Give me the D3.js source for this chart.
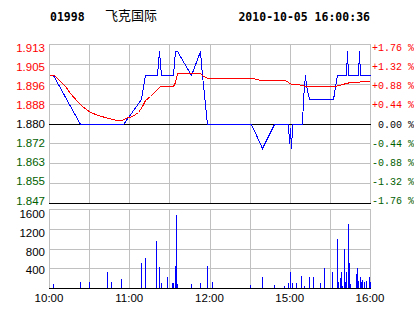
<!DOCTYPE html>
<html>
<head>
<meta charset="utf-8">
<script src="https://cdn.jsdelivr.net/npm/d3@7/dist/d3.min.js"></script>
<style>
  body { margin: 0; background: #fff; }
  svg { display: block; }
</style>
</head>
<body>
<svg id="chart" width="414" height="314"></svg>
<script>
// header
const stockCode = "01998"
const stockName = "飞克国际"
const stamp = "2010-10-05 16:00:36"
const prevClose = 1.880

// axes
const pctTicks = [1.76, 1.32, 0.88, 0.44, 0, -0.44, -0.88, -1.32, -1.76]
const priceLabels = ["1.913", "1.905", "1.896", "1.888", "1.880", "1.872", "1.863", "1.855", "1.847"]
const pctLabels = ["+1.76 %", "+1.32 %", "+0.88 %", "+0.44 %", "0.00 %", "-0.44 %", "-0.88 %", "-1.32 %", "-1.76 %"]
const volTicks = [0, 400, 800, 1200, 1600]
const gridMins = [0, 30, 60, 90, 120, 150, 180, 210, 240]   // trading minutes since 10:00
const timeTicks = [0, 60, 120, 180, 240]
const timeLabels = ["10:00", "11:00", "12:00", "15:00", "16:00"]

// last price (blue)
const priceMin = [3, 23, 55, 68.5, 72, 80.5, 82, 84, 93, 94.5, 96, 106, 113, 114.5, 118.5, 151, 159.5, 168, 179, 179.5,
  180, 180.7, 181.5, 182, 189, 190, 191.3, 192.5, 194.5, 212, 215, 221.8, 222.6, 223.3, 230.8, 232, 232.6, 240]
const priceVal = [1.90, 1.88, 1.88, 1.89, 1.90, 1.90, 1.91, 1.90, 1.90, 1.91, 1.91, 1.90, 1.91, 1.90, 1.88, 1.88, 1.87, 1.88, 1.88, 1.872,
  1.878, 1.87, 1.878, 1.88, 1.88, 1.89, 1.90, 1.896, 1.89, 1.89, 1.90, 1.90, 1.91, 1.90, 1.90, 1.91, 1.90, 1.90]

// average price (red)
const avgMin = [0, 3.7, 8.2, 12, 15.7, 20.7, 24.4, 30.7, 36.9, 44.3, 50.6, 54.8, 56.8, 61.8, 66.8, 69.3, 71.8, 75.5, 79.3, 83,
  92.5, 94.2, 95.9, 112.9, 115.4, 119.1, 135.3, 136.6, 152.7, 157.8, 176.4, 180.9, 186.4, 191.4, 203.9, 213.8, 218.8, 225, 240]
const avgVal = [1.900, 1.900, 1.8975, 1.8954, 1.8927, 1.8892, 1.8872, 1.8847, 1.8834, 1.8821, 1.8815, 1.8815, 1.8824, 1.8833, 1.8847, 1.8872, 1.8896, 1.8913, 1.8934, 1.8957,
  1.8957, 1.8971, 1.9010, 1.9010, 1.8996, 1.8991, 1.8991, 1.8989, 1.8989, 1.8982, 1.8982, 1.8965, 1.8964, 1.8957, 1.8954, 1.8957, 1.8964, 1.8972, 1.8975]

// volume
const volMin = [3.2, 23.4, 30, 43.6, 46.6, 54, 68.5, 72, 80.2, 82.5, 84, 88.4, 92, 93, 94.4, 95.2, 96, 106.4, 113, 118.4,
  122, 150.5, 159.5, 168.4, 176, 179, 180.4, 182, 185, 188.6, 191, 194.6, 197.6, 202.8, 205.8, 211.8, 215.5, 216.3, 217.8, 218.5,
  219.3, 220.8, 221.5, 222.3, 223.8, 224.5, 225.3, 229.8, 230.5, 231.3, 232.8, 233.5, 234.3, 235.8, 237.3, 239.5, 240]
const volVal = [80, 122, 122, 325, 122, 183, 508, 610, 956, 427, 102, 224, 100, 100, 447, 1485, 81, 81, 100, 447,
  122, 61, 224, 61, 40, 100, 325, 100, 100, 244, 40, 224, 224, 100, 407, 325, 997, 122, 203, 325,
  40, 793, 122, 325, 1302, 508, 81, 285, 407, 142, 224, 122, 163, 122, 142, 224, 122]

const svg = d3.select('#chart')
const left = 49, right = 370

const x = d3.scaleLinear().domain([0, 240]).range([left, right])
const yPct = d3.scaleLinear().domain([-1.76, 1.76]).range([203, 44])
const yPctLabel = d3.scaleLinear().domain([-1.76, 1.76]).range([200.5, 47.5])
const yVol = d3.scaleLinear().domain([0, 1600]).range([288, 209])
const yVolLabel = d3.scaleLinear().domain([0, 1600]).range([289.1, 213.8])

const toPct = p => (p / prevClose - 1) * 100
const px = v => Math.round(v) + 0.5
const signColor = v => v > 0 ? '#ff0000' : v < 0 ? '#006000' : '#000'

svg.append('rect').attr('width', 414).attr('height', 314).attr('fill', '#fff')

// title
const title = svg.append('g')
title.append('text').attr('x', 50).attr('y', 21)
  .style('font', 'bold 11.5px "DejaVu Sans Mono"').text(stockCode)
title.append('text').attr('x', 105).attr('y', 20)
  .style('font', '13px "Noto Sans CJK SC"').text(stockName)
title.append('text').attr('x', 370).attr('y', 21).attr('text-anchor', 'end')
  .style('font', 'bold 11.5px "DejaVu Sans Mono"').text(stamp)

const grid = svg.append('g').attr('shape-rendering', 'crispEdges')

// price panel grid
grid.selectAll('.hp').data(pctTicks).enter().append('line')
  .attr('x1', left).attr('x2', right + 1)
  .attr('y1', d => px(yPct(d))).attr('y2', d => px(yPct(d)))
  .attr('stroke', (d, i) => d == 0 || i == pctTicks.length - 1 ? '#000' : '#c0c0c0')
grid.selectAll('.vp').data(gridMins).enter().append('line')
  .attr('x1', d => px(x(d))).attr('x2', d => px(x(d)))
  .attr('y1', yPct(1.76)).attr('y2', yPct(-1.76))
  .attr('stroke', '#c0c0c0')

// volume panel grid
grid.selectAll('.hv').data(volTicks).enter().append('line')
  .attr('x1', left).attr('x2', right + 1)
  .attr('y1', d => px(yVol(d))).attr('y2', d => px(yVol(d)))
  .attr('stroke', d => d == 0 ? '#000' : '#c0c0c0')
grid.selectAll('.vv').data(gridMins).enter().append('line')
  .attr('x1', d => px(x(d))).attr('x2', d => px(x(d)))
  .attr('y1', yVol(1600)).attr('y2', yVol(0))
  .attr('stroke', '#c0c0c0')
// bring black lines on top of verticals
grid.selectAll('line').filter(function () { return d3.select(this).attr('stroke') == '#000' }).raise()

// labels
const labels = svg.append('g')
labels.selectAll('.pl').data(pctTicks).enter().append('text')
  .attr('x', 45).attr('y', d => yPctLabel(d) + 4.1)
  .attr('text-anchor', 'end').attr('fill', d => signColor(d))
  .style('font', '11.5px "Liberation Sans"')
  .text((d, i) => priceLabels[i])
labels.selectAll('.rl').data(pctTicks).enter().append('text')
  .attr('x', 414).attr('y', d => yPctLabel(d) + 3.5)
  .attr('text-anchor', 'end').attr('fill', d => signColor(d))
  .style('font', '10px "Liberation Mono"').style('white-space', 'pre')
  .text((d, i) => pctLabels[i])
labels.selectAll('.vl').data(volTicks.filter(d => d > 0)).enter().append('text')
  .attr('x', 45).attr('y', d => yVolLabel(d) + 4.1)
  .attr('text-anchor', 'end').attr('fill', '#000')
  .style('font', '11.5px "Liberation Sans"')
  .text(d => d)
labels.selectAll('.tl').data(timeTicks).enter().append('text')
  .attr('x', d => x(d)).attr('y', 302)
  .attr('text-anchor', 'middle').attr('fill', '#000')
  .style('font', '11.5px "Liberation Sans"')
  .text((d, i) => timeLabels[i])

// volume bars
const vols = volMin.map((m, i) => ({ m, v: volVal[i] }))
svg.append('g').attr('shape-rendering', 'crispEdges')
  .selectAll('rect').data(vols).enter().append('rect')
  .attr('x', d => Math.round(x(d.m))).attr('width', 1)
  .attr('y', d => Math.round(yVol(d.v)))
  .attr('height', d => Math.round(yVol(0)) - Math.round(yVol(d.v)))
  .attr('fill', '#0000ff')

// price lines
const line = d3.line()
  .x(d => px(x(d.m)))
  .y(d => px(yPct(toPct(d.p))))

const avg = avgMin.map((m, i) => ({ m, p: avgVal[i] }))
const last = priceMin.map((m, i) => ({ m, p: priceVal[i] }))

svg.append('path').datum(last)
  .attr('fill', 'none').attr('stroke', '#0000ff').attr('stroke-width', 1)
  .attr('shape-rendering', 'crispEdges').attr('d', line)
svg.append('path').datum(avg)
  .attr('fill', 'none').attr('stroke', '#ff0000').attr('stroke-width', 1)
  .attr('shape-rendering', 'crispEdges').attr('d', line)
</script>
</body>
</html>
